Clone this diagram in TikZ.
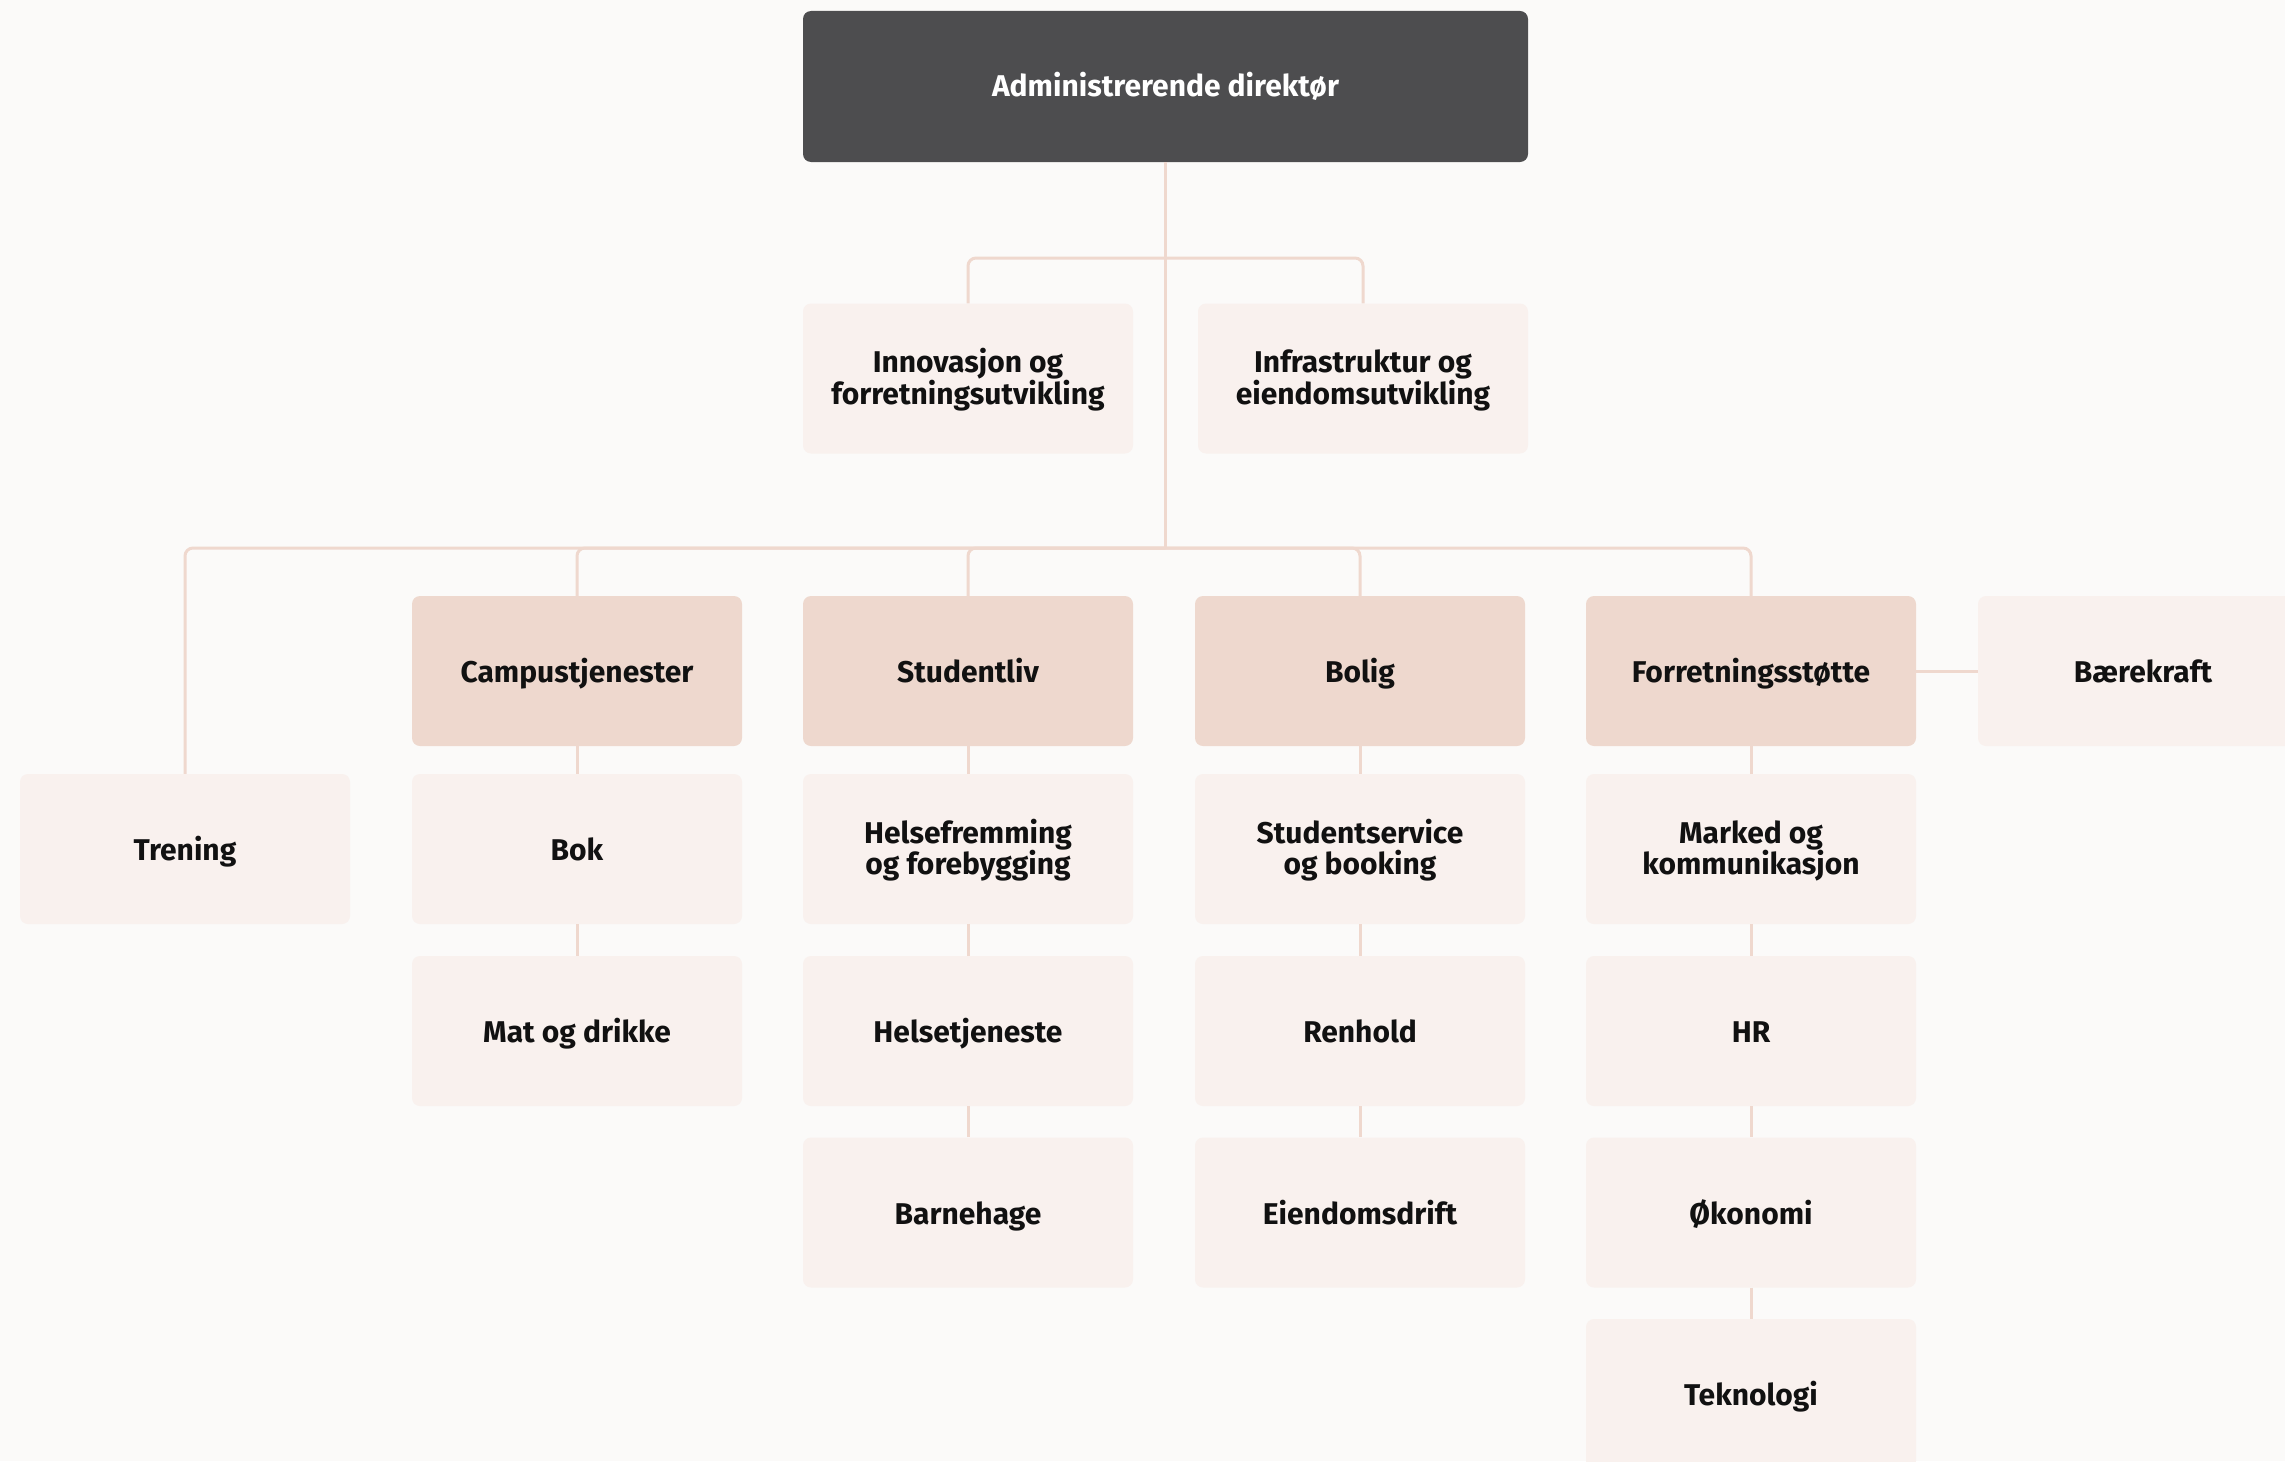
\documentclass[tikz,border=0pt]{standalone}
\usepackage{fontspec}
\setmainfont{Fira Sans}
\definecolor{bg}{HTML}{FBFAF9}
\definecolor{darkbox}{HTML}{4D4D4F}
\definecolor{midbox}{HTML}{EED8CE}
\definecolor{lightbox}{HTML}{F9F1EE}
\definecolor{linec}{HTML}{EFD8CE}
\definecolor{txt}{HTML}{111111}
\tikzset{
  base/.style={rounded corners=8pt, minimum width=330pt, minimum height=150pt,
    align=center, inner sep=0pt, text=txt,
    text height=23pt, text depth=0pt,
    font=\fontsize{30}{31.4}\selectfont\bfseries},
  twoline/.style={text height=54.4pt, text depth=3pt},
  topbox/.style={base, fill=darkbox, text=white, minimum width=725pt, minimum height=151pt, text depth=2pt},
  unitbox/.style={base, fill=midbox},
  subbox/.style={base, fill=lightbox},
  conn/.style={draw=linec, line width=3pt, rounded corners=8pt}
}
\begin{document}
\begin{tikzpicture}[x=1pt,y=-1pt]
\fill[bg] (0,0) rectangle (2285,1461);
\useasboundingbox (0,0) rectangle (2285,1461);
\begin{scope}
\clip (0,0) rectangle (2285,1461);
\coordinate (hub1) at (1165.5,258);
\coordinate (hub2) at (1165.5,548);
% nodes
\node[topbox] (dir) at (1165.5,86.5) {Administrerende direktør};
\node[subbox, twoline] (inno) at (968,378.5) {Innovasjon og\\forretningsutvikling};
\node[subbox, twoline] (infra) at (1363,378.5) {Infrastruktur og\\eiendomsutvikling};
\node[unitbox] (campus) at (577,671) {Campustjenester};
\node[unitbox] (stud) at (968,671) {Studentliv};
\node[unitbox] (bolig) at (1360,671) {Bolig};
\node[unitbox] (forr) at (1751,671) {Forretningsstøtte};
\node[subbox] (baere) at (2143,671) {Bærekraft};
\node[subbox] (trening) at (185,849) {Trening};
\node[subbox] (bok) at (577,849) {Bok};
\node[subbox, twoline] (helse) at (968,849) {Helsefremming\\og forebygging};
\node[subbox, twoline] (studserv) at (1360,849) {Studentservice\\og booking};
\node[subbox, twoline] (marked) at (1751,849) {Marked og\\kommunikasjon};
\node[subbox] (mat) at (577,1031) {Mat og drikke};
\node[subbox] (helsetj) at (968,1031) {Helsetjeneste};
\node[subbox] (renhold) at (1360,1031) {Renhold};
\node[subbox] (hr) at (1751,1031) {HR};
\node[subbox] (barne) at (968,1212.5) {Barnehage};
\node[subbox] (eiendom) at (1360,1212.5) {Eiendomsdrift};
\node[subbox] (oko) at (1751,1212.5) {Økonomi};
\node[subbox] (tekno) at (1751,1394) {Teknologi};
% connectors
\draw[conn] (dir.south) -- (hub2);
\draw[conn] (hub1) -| (inno.north);
\draw[conn] (hub1) -| (infra.north);
\draw[conn] (hub2) -| (trening.north);
\draw[conn] (hub2) -| (campus.north);
\draw[conn] (hub2) -| (stud.north);
\draw[conn] (hub2) -| (bolig.north);
\draw[conn] (hub2) -| (forr.north);
\draw[conn] (forr.east) -- (baere.west);
\draw[conn] (campus.south) -- (bok.north);
\draw[conn] (bok.south) -- (mat.north);
\draw[conn] (stud.south) -- (helse.north);
\draw[conn] (helse.south) -- (helsetj.north);
\draw[conn] (helsetj.south) -- (barne.north);
\draw[conn] (bolig.south) -- (studserv.north);
\draw[conn] (studserv.south) -- (renhold.north);
\draw[conn] (renhold.south) -- (eiendom.north);
\draw[conn] (forr.south) -- (marked.north);
\draw[conn] (marked.south) -- (hr.north);
\draw[conn] (hr.south) -- (oko.north);
\draw[conn] (oko.south) -- (tekno.north);
\end{scope}
\end{tikzpicture}
\end{document}
